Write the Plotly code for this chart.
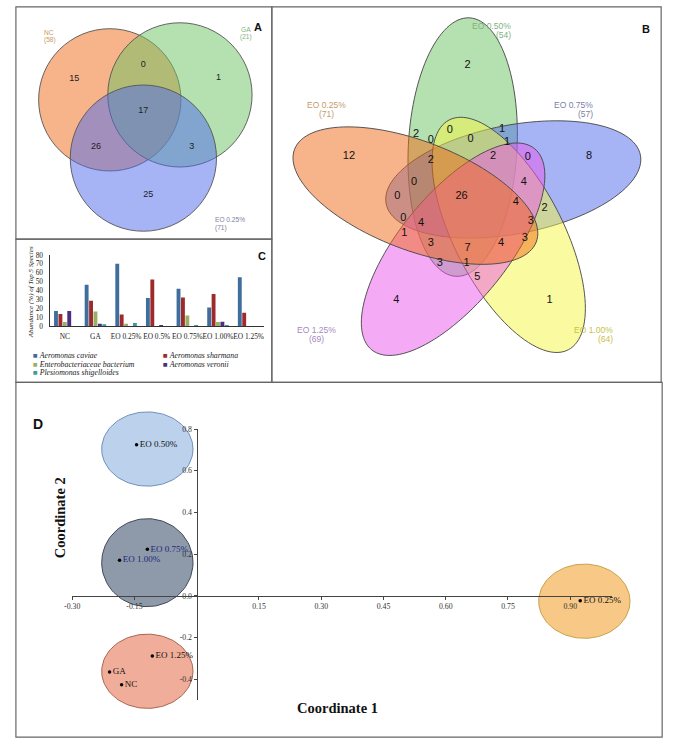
import numpy as np
import plotly.graph_objects as go

W, H = 675, 748

# ---------------- data ----------------
# Panel A : 3-set Venn
venn3_sets = ["NC", "GA", "EO 0.25%"]
venn3_totals = [58, 21, 71]
venn3_counts = [15, 0, 1, 17, 26, 3, 25]

# Panel B : 5-set Venn
venn5_sets = ["EO 0.25%", "EO 0.50%", "EO 0.75%", "EO 1.00%", "EO 1.25%"]
venn5_totals = [71, 54, 57, 64, 69]
venn5_counts = [2, 12, 8, 4, 1,
                2, 0, 1, 0, 0, 1, 2, 2, 0, 0, 4,
                0, 26, 4, 2, 0, 4, 3, 1, 3, 3, 7, 4, 3, 1, 5]

# Panel C : abundance of top 5 species
groups = ["NC", "GA", "EO 0.25%", "EO 0.5%", "EO 0.75%", "EO 1.00%", "EO 1.25%"]
species = ["Aeromonas caviae", "Aeromonas sharmana", "Enterobacteriaceae bacterium",
           "Aeromonas veronii", "Plesiomonas shigelloides"]
a_caviae = [17, 46.5, 70, 31.5, 42, 21, 55]
a_sharmana = [13.5, 28.5, 13, 52.5, 32, 36, 15]
entero_bact = [4.5, 16.5, 2.5, 0, 12, 4.5, 0]
a_veronii = [17, 2.5, 0, 1, 0, 5, 0]
p_shigelloides = [0, 2, 3.5, 0, 0.5, 0.8, 0]

# Panel D : PCoA
pcoa_labels = ["EO 0.50%", "EO 0.75%", "EO 1.00%", "EO 1.25%", "GA", "NC", "EO 0.25%"]
coord1 = [-0.145, -0.119, -0.186, -0.107, -0.210, -0.181, 0.924]
coord2 = [0.725, 0.223, 0.171, -0.289, -0.365, -0.427, -0.024]
# cluster ellipses: centre x, centre y, radius x, radius y (data units)
cluster_cx = [-0.119, -0.119, -0.119, 0.934]
cluster_cy = [0.704, 0.159, -0.362, -0.026]
cluster_rx = [0.110, 0.110, 0.110, 0.110]
cluster_ry = [0.178, 0.211, 0.178, 0.178]

# ---------------- styles / layout geometry ----------------
SERIF = "Liberation Serif, Times New Roman, serif"
SANS = "Liberation Sans, Arial, sans-serif"


def px(x):
    return x / W


def py(y):
    return 1 - y / H


fig = go.Figure()
shapes = []
annotations = []

venn_fill = {
    "orange": "rgba(239,105,21,0.5)",
    "green": "rgba(107,193,97,0.5)",
    "blue": "rgba(77,105,235,0.5)",
    "yellow": "rgba(245,245,67,0.5)",
    "pink": "rgba(235,85,235,0.5)",
}

# Panel A circles (pixel centres, radius)
venn3_geom = [(103, 97, 72, "orange"), (174, 92, 73, "green"), (137, 156, 74, "blue")]
for cx, cy, r, col in venn3_geom:
    shapes.append(dict(type="circle", xref="x", yref="y", x0=cx - r, x1=cx + r,
                       y0=cy - r, y1=cy + r, fillcolor=venn_fill[col],
                       line=dict(color="#555", width=0.9), layer="below"))
venn3_pos = [(67, 76), (137, 61), (213, 75), (137, 108), (89, 144), (186, 144), (142, 193)]
fig.add_trace(go.Scatter(x=[p[0] for p in venn3_pos], y=[p[1] for p in venn3_pos],
                         text=[str(c) for c in venn3_counts], mode="text",
                         textfont=dict(family=SANS, size=9, color="#222"),
                         xaxis="x", yaxis="y", hoverinfo="skip", cliponaxis=False))
venn3_label_pos = [(34, 23, "#c89a62"), (241, 20, "#7fb27f"), (207, 213, "#7c80a0")]
for name, tot, (lx, ly, lc) in zip(venn3_sets, venn3_totals, venn3_label_pos):
    annotations.append(dict(x=px(lx), y=py(ly), xref="paper", yref="paper", text=name,
                            showarrow=False, font=dict(family=SANS, size=6.6, color=lc)))
    annotations.append(dict(x=px(lx), y=py(ly + 7.5), xref="paper", yref="paper",
                            text="(%d)" % tot, showarrow=False,
                            font=dict(family=SANS, size=6.6, color=lc)))

# Panel B ellipses: tip point, direction from tip (deg), semi axes
venn5_geom = [
    ((467, 14), 93.0, "green"),
    ((640, 153), 169.2, "blue"),
    ((567, 350), 242.6, "yellow"),
    ((368, 350), 309.0, "pink"),
    ((290, 147), 21.0, "orange"),
]
A_SEMI, B_SEMI = 131.0, 55.0
t = np.linspace(0, 2 * np.pi, 121)
for (tx, ty), ang, col in venn5_geom:
    al = np.deg2rad(ang)
    ux, uy = np.cos(al), np.sin(al)
    cx, cy = tx + A_SEMI * ux, ty + A_SEMI * uy
    xs = cx + A_SEMI * np.cos(t) * ux - B_SEMI * np.sin(t) * uy
    ys = cy + A_SEMI * np.cos(t) * uy + B_SEMI * np.sin(t) * ux
    path = "M " + " L ".join("%.2f,%.2f" % (a, b) for a, b in zip(xs, ys)) + " Z"
    shapes.append(dict(type="path", xref="x", yref="y", path=path,
                       fillcolor=venn_fill[col], line=dict(color="#444", width=0.9),
                       layer="below"))

venn5_pos = [(465, 62), (345, 154), (588, 154), (393, 300), (548, 300),
             (413, 132), (447, 128), (500, 127), (428, 138), (468, 137), (505, 140),
             (428, 158), (491, 154), (526, 155), (411, 180), (522, 180),
             (394, 195), (459, 195), (514, 201), (543, 207), (400, 217), (418, 222),
             (529, 220), (401, 232), (523, 237), (428, 242), (465, 247), (499, 242),
             (437, 262), (464, 262), (475, 277)]
fig.add_trace(go.Scatter(x=[p[0] for p in venn5_pos], y=[p[1] for p in venn5_pos],
                         text=[str(c) for c in venn5_counts], mode="text",
                         textfont=dict(family=SANS, size=11, color="#111"),
                         xaxis="x", yaxis="y", hoverinfo="skip", cliponaxis=False))
venn5_label_pos = [(322, 95, "#c49a6c"), (511, 15, "#82b082"), (594, 95, "#7a80a8"),
                   (614, 330, "#c8c24a"), (312, 330, "#a888bc")]
for name, tot, (lx, ly, lc) in zip(venn5_sets, venn5_totals, venn5_label_pos):
    annotations.append(dict(x=px(lx), y=py(ly), xref="paper", yref="paper", text=name,
                            showarrow=False, font=dict(family=SANS, size=8.5, color=lc)))
    annotations.append(dict(x=px(lx), y=py(ly + 9), xref="paper", yref="paper",
                            text="(%d)" % tot, showarrow=False,
                            font=dict(family=SANS, size=8.5, color=lc)))

# ---- Panel C bars
bar_colors = ["#3f6d9c", "#9e2b2b", "#98b068", "#4a2f7e", "#3b9aa6"]
for name, vals, colr in zip(species, [a_caviae, a_sharmana, entero_bact, a_veronii, p_shigelloides], bar_colors):
    fig.add_trace(go.Bar(x=groups, y=vals, name=name, marker=dict(color=colr, line=dict(width=0)),
                         xaxis="x2", yaxis="y2", showlegend=False))

legend_pos = [(23, 356), (155, 356), (23, 364.5), (155, 364.5), (23, 373)]
for name, colr, (lx, ly) in zip(species, bar_colors, legend_pos):
    annotations.append(dict(x=px(lx), y=py(ly), xref="paper", yref="paper", xanchor="left",
                            text="<span style='color:%s'>■</span> <i>%s</i>" % (colr, name),
                            showarrow=False, font=dict(family=SERIF, size=7.8, color="#222")))
annotations.append(dict(x=px(18), y=py(292), xref="paper", yref="paper", textangle=-90,
                        text="<i>Abundance (%) of Top 5 Species</i>", showarrow=False,
                        font=dict(family=SERIF, size=7, color="#222")))

# ---- Panel D ellipses (x3/y3, same scale as x4/y4)
X0PX, Y0PX, SX, SY = 191.0, 599.0, 420.0, 211.0
x3_range = [(10 - X0PX) / SX, (660 - X0PX) / SX]
y3_range = [(Y0PX - 740) / SY, (Y0PX - 386) / SY]
cl_fill = ["#bcd1ec", "#8e99aa", "#f0ae9a", "#f8c886"]
cl_line = ["#6f8fbd", "#3e4756", "#a8654f", "#c6a24a"]
for cx, cy, rx, ry, fc, lc in zip(cluster_cx, cluster_cy, cluster_rx, cluster_ry, cl_fill, cl_line):
    fig.add_trace(go.Scatter(x=cx + rx * np.cos(t), y=cy + ry * np.sin(t), mode="lines",
                             fill="toself", fillcolor=fc, line=dict(color=lc, width=1),
                             xaxis="x3", yaxis="y3", hoverinfo="skip", showlegend=False))

pt_colors = ["#111", "#1c2a78", "#1c2a78", "#111", "#111", "#111", "#111"]
fig.add_trace(go.Scatter(x=coord1, y=coord2, mode="markers+text", text=pcoa_labels,
                         textposition="middle right",
                         textfont=dict(family=SERIF, size=9, color=pt_colors),
                         marker=dict(color="#000", size=3.5), cliponaxis=False,
                         xaxis="x4", yaxis="y4", showlegend=False, hoverinfo="skip"))

annotations.append(dict(x=px(333), y=py(723), xref="paper", yref="paper", text="<b>Coordinate 1</b>",
                        showarrow=False, font=dict(family=SERIF, size=14.5, color="#111")))
annotations.append(dict(x=px(42), y=py(563), xref="paper", yref="paper", text="<b>Coordinate 2</b>",
                        textangle=-90, showarrow=False, font=dict(family=SERIF, size=14.5, color="#111")))

# panel letters
for txt, lx, ly, sz in [("A", 253, 15, 11), ("B", 652, 17, 11), ("C", 257, 255, 11), ("D", 23, 425, 14)]:
    annotations.append(dict(x=px(lx), y=py(ly), xref="paper", yref="paper", text="<b>%s</b>" % txt,
                            showarrow=False, font=dict(family=SANS, size=sz, color="#111")))

# panel borders
for x0, y0, x1, y1 in [(8, 3, 267, 238), (8, 238, 267, 383), (267, 3, 661, 383), (8, 383, 662, 742)]:
    shapes.append(dict(type="rect", xref="paper", yref="paper", x0=px(x0), x1=px(x1),
                       y0=py(y1), y1=py(y0), line=dict(color="#666", width=1.2),
                       fillcolor="rgba(0,0,0,0)", layer="above"))

x4_ticks = [-0.30, -0.15, 0.15, 0.30, 0.45, 0.60, 0.75, 0.90]
y4_ticks = [-0.4, -0.2, 0.0, 0.2, 0.4, 0.6, 0.8]

fig.update_layout(
    width=W, height=H, margin=dict(l=0, r=0, t=0, b=0),
    paper_bgcolor="white", plot_bgcolor="rgba(0,0,0,0)", showlegend=False,
    barmode="group", bargap=0.28, bargroupgap=0.12,
    shapes=shapes, annotations=annotations,
    xaxis=dict(domain=[0, 1], range=[0, W], visible=False, fixedrange=True),
    yaxis=dict(domain=[0, 1], range=[H, 0], visible=False, fixedrange=True),
    xaxis2=dict(domain=[px(42), px(259)], anchor="y2", type="category", showline=True,
                linecolor="#333", linewidth=1, ticks="", showgrid=False, zeroline=False,
                tickangle=0, tickfont=dict(family=SERIF, size=7.4, color="#222"),
                ticklabelstandoff=3, fixedrange=True),
    yaxis2=dict(domain=[py(326), py(254)], anchor="x2", range=[0, 80],
                tickvals=list(range(0, 90, 10)), showline=True, linecolor="#333", linewidth=1,
                ticks="", showgrid=False, zeroline=False, ticklabelstandoff=4,
                tickfont=dict(family=SERIF, size=7.4, color="#222"), fixedrange=True),
    xaxis3=dict(domain=[px(10), px(660)], range=x3_range, anchor="y3", visible=False, fixedrange=True),
    yaxis3=dict(domain=[py(740), py(386)], range=y3_range, anchor="x3", visible=False, fixedrange=True),
    xaxis4=dict(domain=[px(X0PX - 0.30 * SX), px(X0PX + 1.0 * SX)], range=[-0.30, 1.0],
                anchor="free", position=py(Y0PX), showline=True, linecolor="#444", linewidth=1.3,
                tickvals=x4_ticks, ticktext=["%.2f" % v for v in x4_ticks], ticks="outside",
                ticklen=3, tickcolor="#444", showgrid=False, zeroline=False, tickangle=0,
                tickfont=dict(family=SERIF, size=7.8, color="#333"), fixedrange=True),
    yaxis4=dict(domain=[py(Y0PX + 0.5 * SY), py(Y0PX - 0.8 * SY)], range=[-0.5, 0.8],
                anchor="free", position=px(X0PX), showline=True, linecolor="#444", linewidth=1.3,
                tickvals=y4_ticks, ticktext=["%.1f" % v for v in y4_ticks], ticks="outside",
                ticklen=3, tickcolor="#444", showgrid=False, zeroline=False,
                tickfont=dict(family=SERIF, size=7.8, color="#333"), fixedrange=True),
)

fig.write_html("out.html", config={"displayModeBar": False},
               post_script="document.body.style.margin='0px';document.body.style.overflow='hidden';")
